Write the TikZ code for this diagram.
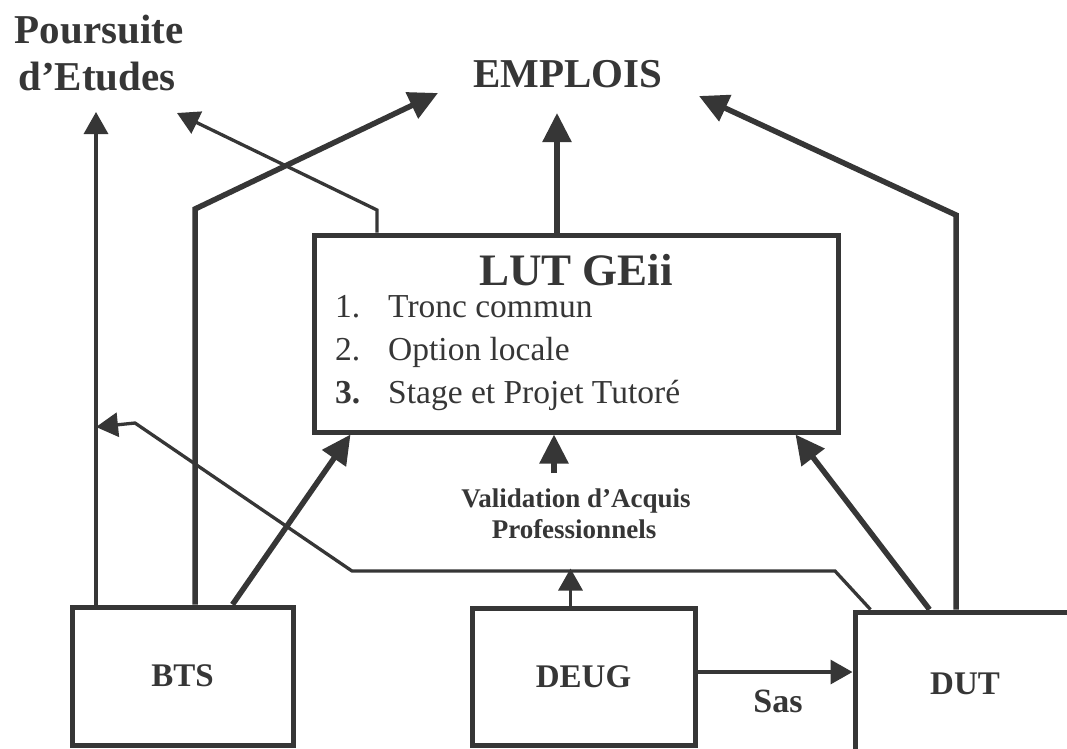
\documentclass[tikz,border=0pt]{standalone}
\usepackage{fontspec}
\setmainfont{Liberation Serif}
\usetikzlibrary{arrows.meta,calc}
\definecolor{ink}{HTML}{363636}
\begin{document}
\begin{tikzpicture}[x=1pt,y=-1pt,
  box/.style={draw=ink, line width=5pt, inner sep=0pt, text=ink,
    font=\bfseries\fontsize{33}{36}\selectfont},
  thickline/.style={draw=ink, line width=5.5pt},
  thinline/.style={draw=ink, line width=3.3pt},
  bigtip/.style={-{Triangle[length=29pt,width=28pt]}},
  smalltip/.style={-{Triangle[length=22pt,width=24pt]}},
  lbl/.style={text=ink, inner sep=0pt, anchor=base},
  item/.style={text=ink, inner sep=0pt, anchor=base west,
    font=\fontsize{33.5}{36}\selectfont}
]
\useasboundingbox (0,0) rectangle (1067,748);
\clip (0,0) rectangle (1067,748);
\fill[white] (0,0) rectangle (1067,748);

% boxes
\node[box, minimum width=221pt, minimum height=138pt] (bts) at (182.5,676) {BTS};
\node[box, minimum width=223pt, minimum height=137pt] (deug) at (583.5,676.5) {DEUG};
\node[box, minimum width=220pt, minimum height=143pt] (dut) at (965,683.5) {DUT};
\node[box, minimum width=524pt, minimum height=197pt] (lut) at (576,333.5) {};

% LUT content
\node[lbl, font=\bfseries\fontsize{45}{48}\selectfont] (luttitle) at (576,285) {LUT GEii};
\node[item] (n1) at (335,317) {1.};
\node[item] (t1) at (388,317) {Tronc commun};
\node[item] (n2) at (335,360) {2.};
\node[item] (t2) at (388,360) {Option locale};
\node[item, font=\bfseries\fontsize{33.5}{36}\selectfont] (n3) at (335,403) {3.};
\node[item] (t3) at (388,403) {Stage et Projet Tutoré};

% top labels
\node[lbl, font=\bfseries\fontsize{41}{44}\selectfont] (pours1) at (99,43) {Poursuite};
\node[lbl, font=\bfseries\fontsize{41}{44}\selectfont] (pours2) at (97,90) {d’Etudes};
\node[lbl, font=\bfseries\fontsize{41}{44}\selectfont] (emplois) at (568,87) {EMPLOIS};

% other labels
\node[lbl, font=\bfseries\fontsize{27}{30}\selectfont] (val1) at (576,507) {Validation d’Acquis};
\node[lbl, font=\bfseries\fontsize{27}{30}\selectfont] (val2) at (574,538) {Professionnels};
\node[lbl, font=\bfseries\fontsize{34}{36}\selectfont] (sas) at (778,712) {Sas};

% coordinates
\coordinate (tipE) at (557,113);
\coordinate (tipE2) at (438,93);
\coordinate (tipE3) at (699,96);
\coordinate (tipP1) at (96,112);
\coordinate (tipP2) at (177,113);
\coordinate (tipP3) at (96,427);
\coordinate (c1) at (377,210);
\coordinate (c2) at (195,209);
\coordinate (c3) at (956,215);
\coordinate (c4) at (835,571);
\coordinate (c5) at (352,571);
\coordinate (c6) at (135,423);
\coordinate (vb) at (554,473);

% connectors
\draw[thickline, bigtip] (lut.north -| tipE) -- (tipE);
\draw[thinline, smalltip] (lut.north -| c1) -- (c1) -- (tipP2);
\draw[thickline, bigtip] (bts.north -| c2) -- (c2) -- (tipE2);
\draw[thinline, smalltip] (bts.north -| tipP1) -- (tipP1);
\draw[thickline, bigtip] ($(bts.north west)+(163,0)$) -- ($(lut.south west)+(39,0)$);
\draw[thickline, bigtip] ($(dut.north west)+(77,0)$) -- ($(lut.south west)+(484,0)$);
\draw[thickline, bigtip] (dut.north -| c3) -- (c3) -- (tipE3);
\draw[thinline, smalltip] ($(dut.north west)+(18,0)$) -- (c4) -- (c5) -- (c6) -- (tipP3);
\draw[thinline, smalltip] ($(deug.north west)+(101,0)$) -- ($(deug.north west)+(101,-37)$);
\draw[thickline, bigtip] (vb) -- (lut.south -| vb);
\draw[thinline, smalltip] ([yshift=4.5pt]deug.east) -- ([yshift=4.5pt]deug.east -| dut.west);
\end{tikzpicture}
\end{document}
